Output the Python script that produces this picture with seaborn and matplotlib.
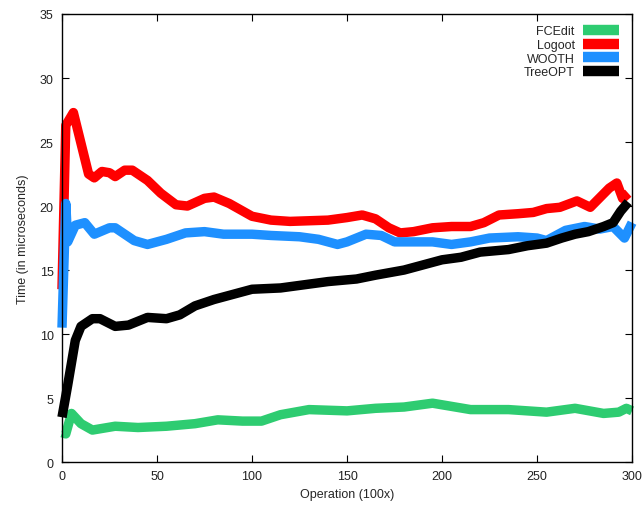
import pandas as pd
import seaborn as sns
import matplotlib.pyplot as plt

# values
fcedit_x = [0, 2, 5, 10, 16, 20, 28, 40, 55, 70, 82, 95, 105, 115, 130, 150, 165, 180, 195, 215, 235, 255, 270, 285, 293, 297, 300]
fcedit_y = [2.3, 2.2, 3.8, 3.0, 2.5, 2.6, 2.8, 2.7, 2.8, 3.0, 3.3, 3.2, 3.2, 3.7, 4.1, 4.0, 4.2, 4.3, 4.6, 4.1, 4.1, 3.9, 4.2, 3.8, 3.9, 4.2, 4.0]

logoot_x = [0, 2, 6, 14, 17, 21, 25, 28, 33, 37, 45, 52, 60, 66, 75, 80, 88, 100, 110, 120, 140, 150, 158, 165, 172, 178, 185, 195, 205, 215, 222, 230, 240, 248, 255, 262, 271, 278, 288, 292, 295, 298]
logoot_y = [13.5, 26.3, 27.3, 22.5, 22.2, 22.7, 22.6, 22.3, 22.8, 22.8, 22.0, 21.0, 20.1, 20.0, 20.6, 20.7, 20.2, 19.2, 18.9, 18.8, 18.9, 19.1, 19.3, 19.0, 18.3, 17.9, 18.0, 18.3, 18.4, 18.4, 18.7, 19.3, 19.4, 19.5, 19.8, 19.9, 20.4, 19.9, 21.4, 21.8, 20.6, 21.0]

wooth_x = [0, 2, 3, 7, 12, 17, 25, 28, 38, 45, 55, 65, 75, 85, 100, 110, 125, 135, 145, 150, 160, 168, 175, 185, 195, 205, 215, 225, 240, 250, 255, 265, 275, 283, 290, 296, 300]
wooth_y = [10.5, 20.2, 17.2, 18.5, 18.7, 17.8, 18.3, 18.3, 17.3, 17.0, 17.4, 17.9, 18.0, 17.8, 17.8, 17.7, 17.6, 17.4, 17.0, 17.2, 17.8, 17.7, 17.2, 17.2, 17.2, 17.0, 17.2, 17.5, 17.6, 17.5, 17.3, 18.1, 18.4, 18.2, 18.4, 17.5, 18.7]

treeopt_x = [0, 3, 7, 10, 16, 20, 28, 35, 45, 55, 62, 70, 80, 90, 100, 115, 125, 140, 155, 165, 180, 190, 200, 210, 220, 235, 245, 255, 263, 270, 277, 285, 290, 294, 298]
treeopt_y = [3.5, 6.0, 9.5, 10.6, 11.2, 11.2, 10.6, 10.7, 11.3, 11.2, 11.5, 12.2, 12.7, 13.1, 13.5, 13.6, 13.8, 14.1, 14.3, 14.6, 15.0, 15.4, 15.8, 16.0, 16.4, 16.6, 16.9, 17.1, 17.5, 17.8, 18.0, 18.4, 18.7, 19.6, 20.3]

series = [("FCEdit", fcedit_x, fcedit_y, "#2ecc71"),
          ("Logoot", logoot_x, logoot_y, "#ff0000"),
          ("WOOTH", wooth_x, wooth_y, "#1e90ff"),
          ("TreeOPT", treeopt_x, treeopt_y, "#000000")]

sns.set_style("ticks")
plt.rcParams['font.family'] = ['Liberation Sans', 'DejaVu Sans']

fig = plt.figure(figsize=(6.43, 5.10), dpi=100)
ax = fig.add_axes([0.0964, 0.092, 0.8866, 0.8786])

for name, xs, ys, col in series:
    df = pd.DataFrame({"op": xs, "t": ys})
    sns.lineplot(data=df, x="op", y="t", color=col, linewidth=6.8, label=name, ax=ax,
                 solid_joinstyle="round", solid_capstyle="butt", clip_on=False)

ax.set_xlim(0, 300)
ax.set_ylim(0, 35)
ax.set_xticks(range(0, 301, 50))
ax.set_yticks(range(0, 36, 5))
ax.tick_params(direction="in", top=True, right=True, labelsize=9, length=5, width=0.8,
               colors="black", labelcolor="#222222", pad=6)
for s in ax.spines.values():
    s.set_linewidth(1.0)
    s.set_color("black")
ax.set_xlabel("Operation (100x)", fontsize=9, labelpad=4)
ax.set_ylabel("Time (in microseconds)", fontsize=9, labelpad=8)

leg = ax.legend(loc="upper right", frameon=False, markerfirst=False, fontsize=9,
                handlelength=2.9, handletextpad=0.65, labelspacing=0.14,
                borderaxespad=0.5, bbox_to_anchor=(0.997, 1.0))
for h in leg.get_lines():
    h.set_linewidth(7.5)
    h.set_solid_capstyle("butt")

fig.savefig("out.png", dpi=100)
